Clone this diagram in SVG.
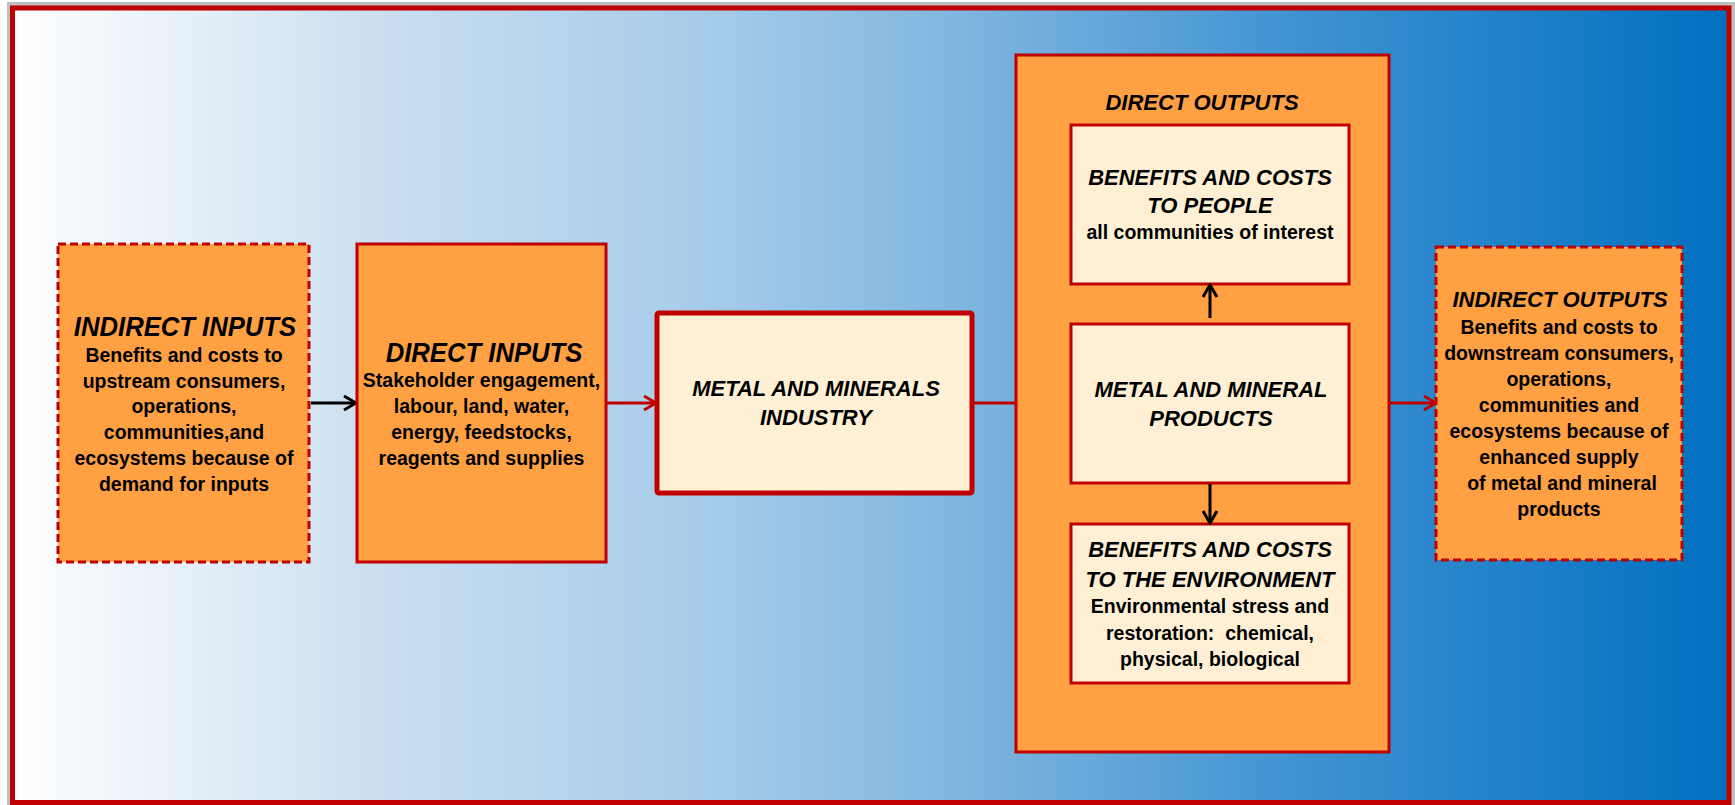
<svg xmlns="http://www.w3.org/2000/svg" width="1735" height="805" viewBox="0 0 1735 805">
<defs>
<linearGradient id="bg" x1="0" y1="0" x2="1" y2="0">
<stop offset="0" stop-color="#FFFFFF"/>
<stop offset="0.22" stop-color="#C8DEF0"/>
<stop offset="0.4" stop-color="#A7CCEA"/>
<stop offset="0.55" stop-color="#80B6DF"/>
<stop offset="0.75" stop-color="#3F92D1"/>
<stop offset="1" stop-color="#0070C0"/>
</linearGradient>
<marker id="ar" viewBox="0 0 16 18" refX="14" refY="9" markerWidth="16" markerHeight="18" markerUnits="userSpaceOnUse" orient="auto">
<path d="M2,2 L14,9 L2,16" fill="none" stroke="#C00000" stroke-width="3"/>
</marker>
<marker id="ab" viewBox="0 0 16 18" refX="14" refY="9" markerWidth="16" markerHeight="18" markerUnits="userSpaceOnUse" orient="auto">
<path d="M2,2 L14,9 L2,16" fill="none" stroke="#000000" stroke-width="3"/>
</marker>
</defs>
<style>
text{font-family:"Liberation Sans",Arial,sans-serif;font-weight:bold;fill:#000;text-anchor:middle}
.hi{font-style:italic;font-size:22px}
.hc{font-style:italic;font-size:28.5px}
.b{font-size:19.5px}
.orange{fill:#FFA043;stroke:#C00000;stroke-width:3}
.dash{stroke-dasharray:8 4}
.cream{fill:#FFF0D5;stroke:#C00000;stroke-width:3}
.red{stroke:#C00000;stroke-width:3;fill:none}
.blk{stroke:#000;stroke-width:3;fill:none}
</style>
<rect x="0" y="0" width="1735" height="805" fill="#FFFFFF"/>
<rect x="7" y="2" width="1728" height="803" fill="#BFBFBF"/>
<rect x="12.5" y="8" width="1716.5" height="794.5" fill="url(#bg)" stroke="#C00000" stroke-width="5"/>

<g id="connectors">
<line class="blk" x1="311" y1="403" x2="356" y2="403" marker-end="url(#ab)"/>
<line class="red" x1="607" y1="403" x2="656" y2="403" marker-end="url(#ar)"/>
<line class="red" x1="974" y1="403" x2="1071" y2="403" marker-end="url(#ar)"/>
<polyline class="red" points="1071,203 1045,203 1045,604 1071,604"/>
<line class="red" x1="1045" y1="203" x2="1071" y2="203" marker-end="url(#ar)"/>
<line class="red" x1="1045" y1="604" x2="1071" y2="604" marker-end="url(#ar)"/>
<line class="red" x1="1390" y1="403" x2="1436" y2="403" marker-end="url(#ar)"/>
</g>

<g id="indirect-inputs">
<rect class="orange dash" x="58" y="244" width="251" height="318"/>
<g transform="translate(185,0) scale(0.9,1)"><text class="hc" x="0" y="336">INDIRECT INPUTS</text></g>
<text class="b"><tspan x="184" y="361.7">Benefits and costs to</tspan><tspan x="184" y="387.5">upstream consumers,</tspan><tspan x="184" y="413.3">operations,</tspan><tspan x="184" y="439">communities,and</tspan><tspan x="184" y="465">ecosystems because of</tspan><tspan x="184" y="491">demand for inputs</tspan></text>
</g>

<g id="direct-inputs">
<rect class="orange" x="357" y="244" width="249" height="318"/>
<g transform="translate(484,0) scale(0.9,1)"><text class="hc" x="0" y="361.7">DIRECT INPUTS</text></g>
<text class="b"><tspan x="481.5" y="387.3">Stakeholder engagement,</tspan><tspan x="481.5" y="413.3">labour, land, water,</tspan><tspan x="481.5" y="439">energy, feedstocks,</tspan><tspan x="481.5" y="465">reagents and supplies</tspan></text>
</g>

<g id="industry">
<rect x="657" y="313" width="315" height="180" rx="2" fill="#FFF0D5" stroke="#C00000" stroke-width="5"/>
<text class="hi"><tspan x="816" y="396">METAL AND MINERALS</tspan><tspan x="816" y="425">INDUSTRY</tspan></text>
</g>

<g id="direct-outputs">
<rect class="orange" x="1016" y="55" width="373" height="697"/>
<text class="hi" x="1202" y="110">DIRECT OUTPUTS</text>
</g>

<g id="people">
<rect class="cream" x="1071" y="125" width="278" height="159"/>
<text class="hi"><tspan x="1210" y="185">BENEFITS AND COSTS</tspan><tspan x="1210" y="213">TO PEOPLE</tspan></text>
<text class="b" x="1210" y="239">all communities of interest</text>
</g>

<g id="products">
<rect class="cream" x="1071" y="324" width="278" height="159"/>
<text class="hi"><tspan x="1211" y="397">METAL AND MINERAL</tspan><tspan x="1211" y="426">PRODUCTS</tspan></text>
</g>

<g id="environment">
<rect class="cream" x="1071" y="524" width="278" height="159"/>
<text class="hi"><tspan x="1210" y="557">BENEFITS AND COSTS</tspan><tspan x="1210" y="587">TO THE ENVIRONMENT</tspan></text>
<text class="b" style="white-space:pre"><tspan x="1210" y="613">Environmental stress and</tspan><tspan x="1210" y="640">restoration:  chemical,</tspan><tspan x="1210" y="666">physical, biological</tspan></text>
</g>

<g id="connectors-inner">
<line class="blk" x1="1210" y1="318" x2="1210" y2="285" marker-end="url(#ab)"/>
<line class="blk" x1="1210" y1="484" x2="1210" y2="523" marker-end="url(#ab)"/>
</g>

<g id="indirect-outputs">
<rect class="orange dash" x="1436" y="247" width="246" height="313"/>
<text class="hi" x="1560" y="307">INDIRECT OUTPUTS</text>
<text class="b"><tspan x="1559" y="334">Benefits and costs to</tspan><tspan x="1559" y="360">downstream consumers,</tspan><tspan x="1559" y="386">operations,</tspan><tspan x="1559" y="412">communities and</tspan><tspan x="1559" y="438">ecosystems because of</tspan><tspan x="1559" y="464">enhanced supply</tspan><tspan x="1562" y="490">of metal and mineral</tspan><tspan x="1559" y="516">products</tspan></text>
</g>
</svg>
